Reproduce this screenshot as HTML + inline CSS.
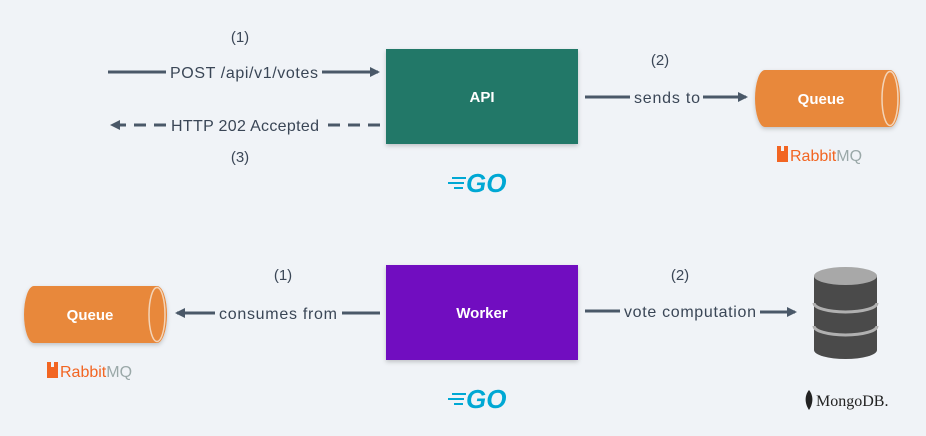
<!DOCTYPE html>
<html><head><meta charset="utf-8"><style>
html,body{margin:0;padding:0;background:#f0f3f7;}
svg{display:block}
</style></head><body>
<svg width="926" height="436" viewBox="0 0 926 436" xmlns="http://www.w3.org/2000/svg" font-family="Liberation Sans,sans-serif">
<defs>
<marker id="ar" markerWidth="10" markerHeight="10" refX="8" refY="5" orient="auto" markerUnits="userSpaceOnUse"><path d="M0,0 L10,5 L0,10 Z" fill="#4a5868"/></marker>
<filter id="sh" x="-10%" y="-10%" width="120%" height="130%"><feDropShadow dx="0" dy="2" stdDeviation="2" flood-opacity="0.2"/></filter>
</defs>
<rect width="926" height="436" fill="#f0f3f7"/>
<g fill="#3a4656" font-size="15">
<text x="240" y="42" text-anchor="middle">(1)</text>
<text x="240" y="162" text-anchor="middle">(3)</text>
<text x="660" y="65" text-anchor="middle">(2)</text>
<text x="283" y="280" text-anchor="middle">(1)</text>
<text x="680" y="280" text-anchor="middle">(2)</text>
</g>
<g stroke="#4a5868" stroke-width="3" fill="none">
<line x1="108" y1="72" x2="166" y2="72"/>
<line x1="322" y1="72" x2="378" y2="72" marker-end="url(#ar)"/>
<line x1="380" y1="125" x2="324" y2="125" stroke-dasharray="12,8"/>
<line x1="166" y1="125" x2="112" y2="125" stroke-dasharray="12,8" marker-end="url(#ar)"/>
<line x1="585" y1="97" x2="630" y2="97"/>
<line x1="703" y1="97" x2="746" y2="97" marker-end="url(#ar)"/>
<line x1="380" y1="313" x2="342" y2="313"/>
<line x1="215" y1="313" x2="177" y2="313" marker-end="url(#ar)"/>
<line x1="585" y1="311" x2="620" y2="311"/>
<line x1="760" y1="312" x2="795" y2="312" marker-end="url(#ar)"/>
</g>
<g fill="#3a4656" font-size="16">
<text x="244" y="78" text-anchor="middle" textLength="148">POST /api/v1/votes</text>
<text x="245" y="131" text-anchor="middle" textLength="148">HTTP 202 Accepted</text>
<text x="667" y="103" text-anchor="middle" textLength="66">sends to</text>
<text x="278" y="319" text-anchor="middle" textLength="118">consumes from</text>
<text x="690" y="317" text-anchor="middle" textLength="132">vote computation</text>
</g>
<rect x="386" y="49" width="192" height="95" fill="#207868" filter="url(#sh)"/>
<text x="482" y="102" text-anchor="middle" fill="#fff" font-size="15" font-weight="bold">API</text>
<rect x="386" y="265" width="192" height="95" fill="#7110c0" filter="url(#sh)"/>
<text x="482" y="318" text-anchor="middle" fill="#fff" font-size="15" font-weight="bold">Worker</text>
<g filter="url(#sh)">
<path d="M765,70 L890,70 A10,28.5 0 0 1 890,127 L765,127 A10,28.5 0 0 1 765,70 Z" fill="#e8883a"/>
<path d="M34,286 L157,286 A10,28.5 0 0 1 157,343 L34,343 A10,28.5 0 0 1 34,286 Z" fill="#e8883a"/>
</g>
<ellipse cx="890" cy="98.5" rx="8" ry="27" fill="none" stroke="#f3d4b8" stroke-width="1.5"/>
<ellipse cx="157" cy="314.5" rx="8" ry="27" fill="none" stroke="#f3d4b8" stroke-width="1.5"/>
<text x="821" y="104" text-anchor="middle" fill="#fff" font-size="15" font-weight="bold">Queue</text>
<text x="90" y="320" text-anchor="middle" fill="#fff" font-size="15" font-weight="bold">Queue</text>
<g>
<path d="M777,146 h4 v5 h3 v-5 h4 v16 h-11 Z" fill="#f26522"/>
<text x="790" y="161" fill="#f26522" font-size="16">Rabbit<tspan fill="#9aa8a8">MQ</tspan></text>
<path d="M47,362 h4 v5 h3 v-5 h4 v16 h-11 Z" fill="#f26522"/>
<text x="60" y="377" fill="#f26522" font-size="16">Rabbit<tspan fill="#9aa8a8">MQ</tspan></text>
</g>
<g fill="#00a8d4" font-size="26" font-weight="bold" font-style="italic">
<text x="466" y="192">GO</text>
<text x="466" y="408">GO</text>
</g>
<g stroke="#00a8d4" stroke-width="2">
<line x1="452" y1="178" x2="466" y2="178"/><line x1="448" y1="183" x2="464" y2="183"/><line x1="454" y1="188" x2="463" y2="188"/>
<line x1="452" y1="394" x2="466" y2="394"/><line x1="448" y1="399" x2="464" y2="399"/><line x1="454" y1="404" x2="463" y2="404"/>
</g>
<path d="M814,276 L814,350 A31.5,9 0 0 0 877,350 L877,276 Z" fill="#4a4a4a"/>
<ellipse cx="845.5" cy="276" rx="31.5" ry="9" fill="#a8a8a8"/>
<path d="M814,303 A31.5,9 0 0 0 877,303" fill="none" stroke="#b0b0b0" stroke-width="3"/>
<path d="M814,326 A31.5,9 0 0 0 877,326" fill="none" stroke="#b0b0b0" stroke-width="3"/>
<path d="M809,390 C804,396 805,404 809,410 C813,404 814,396 809,390 Z" fill="#222"/>
<text x="816" y="406" fill="#222" font-size="16" font-family="Liberation Serif,serif">MongoDB.</text>
</svg>
</body></html>
